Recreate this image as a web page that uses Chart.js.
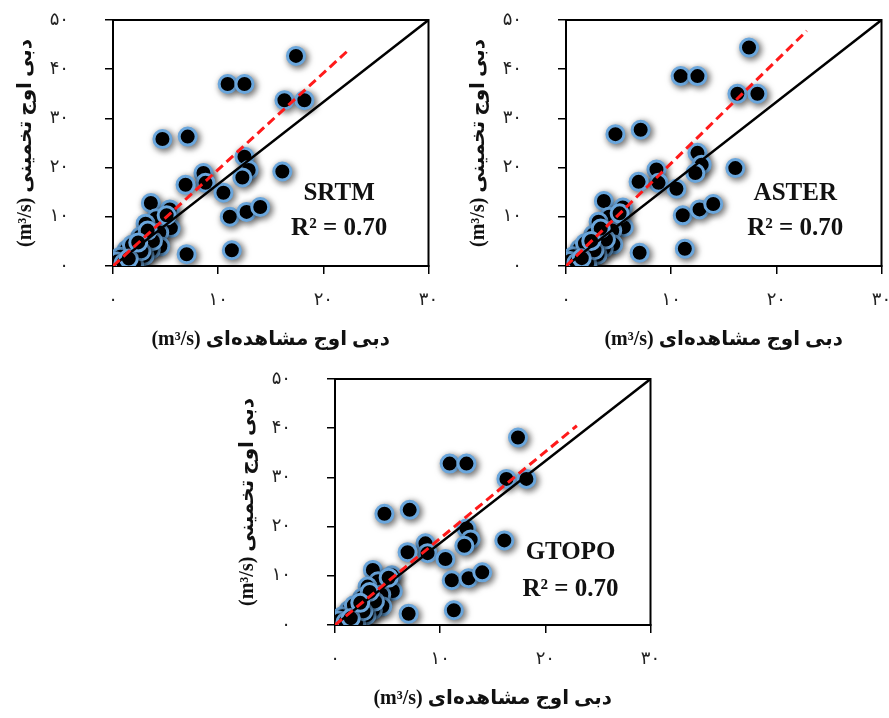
<!DOCTYPE html>
<html lang="fa">
<head>
<meta charset="utf-8">
<script src="https://cdn.jsdelivr.net/npm/chart.js@4.4.1/dist/chart.umd.min.js"></script>
<style>
    html, body { margin: 0; padding: 0; background: #fff; width: 889px; height: 718px; overflow: hidden; }
    .chart-container { position: absolute; width: 440px; height: 355px; }
</style>
</head>
<body>
<div class="chart-container" style="left:0px;top:0px"><canvas id="grafica-srtm"></canvas></div>
<div class="chart-container" style="left:453px;top:0px"><canvas id="grafica-aster"></canvas></div>
<div class="chart-container" style="left:222px;top:359px"><canvas id="grafica-gtopo"></canvas></div>
<script>
//Datos: caudal pico observado (x) y estimado por cada DEM (y)
const observado = [17.4, 10.9, 12.5, 16.3, 18.2, 4.7, 7.1, 12.5, 12.9, 12.3, 16.1, 8.6, 8.8, 6.9, 10.5,
    11.1, 12.7, 14.0, 11.3, 7.0, 3.6, 5.4, 4.1, 3.1, 5.5, 2.6, 4.4, 4.5, 3.6, 2.3, 1.3, 0.7, 0.4,
    1.8, 3.0, 2.0, 1.0, 3.8, 2.7, 5.1, 3.3, 1.5, 2.4];
const estimadoSRTM = [42.7, 37.0, 37.0, 33.7, 33.7, 25.8, 26.3, 22.2, 19.5, 18.0, 19.2, 18.9, 16.9, 16.5, 14.9,
    10.0, 11.0, 12.0, 3.2, 2.4, 12.8, 11.5, 9.7, 8.6, 7.7, 6.0, 6.8, 4.0, 3.3, 1.2, 3.3, 1.9, 0.9,
    4.3, 2.1, 0.4, 0.6, 5.1, 3.0, 10.3, 7.2, 1.5, 4.8];
const estimadoASTER = [44.4, 38.6, 38.6, 35.0, 35.0, 26.8, 27.7, 23.0, 20.6, 18.9, 19.9, 19.6, 16.9, 17.1, 15.7,
    10.3, 11.5, 12.6, 3.5, 2.7, 13.2, 11.9, 10.0, 9.0, 7.9, 6.4, 7.2, 4.4, 3.6, 1.3, 3.5, 2.0, 1.0,
    4.6, 2.3, 0.5, 0.7, 5.4, 3.2, 10.7, 7.6, 1.6, 5.1];
const estimadoGTOPO = [38.1, 32.8, 32.8, 29.7, 29.7, 22.6, 23.4, 19.6, 17.4, 16.1, 17.2, 16.6, 14.6, 14.8, 13.4,
    9.1, 9.5, 10.7, 3.0, 2.3, 11.2, 10.1, 8.9, 7.8, 6.9, 5.6, 6.2, 3.8, 3.0, 1.1, 3.0, 1.8, 0.9,
    4.0, 2.0, 0.4, 0.6, 4.8, 2.8, 9.6, 6.7, 1.4, 4.5];

//Línea de esquina a esquina y extremo de la línea de ajuste
const lineaBaseX = [0, 30];
const lineaBaseY = [0, 50];
const ajusteFinX = [22.5, 22.9, 23.0];
const ajusteFinY = [44.1, 47.8, 40.5];

//Etiquetas de ejes
const xTickLabels = ['۰', '۱۰', '۲۰', '۳۰'];
const yTickLabels = ['۰', '۱۰', '۲۰', '۳۰', '۴۰', '۵۰'];
const tituloX = '(m³/s) دبی اوج مشاهده‌ای';
const tituloY = '(m³/s) دبی اوج تخمینی';
const modelos = ['SRTM', 'ASTER', 'GTOPO'];
const r2Valores = ['0.70', '0.70', '0.70'];

const fuenteTitulo = "'Liberation Serif', 'DejaVu Sans', serif";

//Sombra de los puntos
const sombraPlugin = {
    id: 'sombra',
    beforeDatasetDraw(chart, args) {
        if (chart.data.datasets[args.index].showLine) return;
        const ctx = chart.ctx;
        ctx.save();
        ctx.shadowColor = 'rgba(0, 0, 0, 0.6)';
        ctx.shadowBlur = 7;
        ctx.shadowOffsetX = 2;
        ctx.shadowOffsetY = 2;
    },
    afterDatasetDraw(chart, args) {
        if (chart.data.datasets[args.index].showLine) return;
        chart.ctx.restore();
    }
};

//Marco completo del área de la gráfica
const marcoPlugin = {
    id: 'marco',
    beforeDatasetsDraw(chart) {
        const {ctx, chartArea} = chart;
        ctx.save();
        ctx.strokeStyle = '#000';
        ctx.lineWidth = 2;
        ctx.strokeRect(chartArea.left, chartArea.top, chartArea.right - chartArea.left, chartArea.bottom - chartArea.top);
        ctx.restore();
    }
};

//Texto del modelo y R²
const textoPlugin = {
    id: 'textoModelo',
    afterDatasetsDraw(chart, args, opts) {
        const ctx = chart.ctx;
        const x = chart.scales.x.getPixelForValue(opts.posX);
        ctx.save();
        ctx.fillStyle = '#111';
        ctx.textAlign = 'center';
        ctx.textBaseline = 'middle';
        ctx.font = 'bold 25px ' + fuenteTitulo;
        ctx.fillText(opts.nombre, x, chart.scales.y.getPixelForValue(14.8));
        ctx.fillText('R² = ' + opts.r2, x, chart.scales.y.getPixelForValue(opts.posR2));
        ctx.restore();
    }
};

function createScatterChart(canvasId, indice, estimado) {
    const ctx = document.getElementById(canvasId).getContext('2d');
    const puntos = observado.map((v, i) => ({x: v, y: estimado[i]}));
    new Chart(ctx, {
        type: 'scatter',
        data: {
            datasets: [{
                label: 'ajuste',
                data: [{x: 0, y: 0}, {x: ajusteFinX[indice], y: ajusteFinY[indice]}],
                showLine: true,
                borderColor: '#ff1a1a',
                borderWidth: 3,
                borderDash: [9, 5],
                pointRadius: 0,
                order: 0
            }, {
                label: 'base',
                data: lineaBaseX.map((v, i) => ({x: v, y: lineaBaseY[i]})),
                showLine: true,
                borderColor: '#000',
                borderWidth: 2.5,
                pointRadius: 0,
                order: 1
            }, {
                label: modelos[indice],
                data: puntos,
                backgroundColor: '#000',
                borderColor: '#6aa6dc',
                borderWidth: 3,
                pointRadius: 8.5,
                order: 2
            }]
        },
        options: {
            responsive: true,
            maintainAspectRatio: false,
            animation: false,
            layout: { padding: { top: 20, right: 8, left: 0, bottom: 0 } },
            plugins: {
                legend: { display: false },
                tooltip: { enabled: false },
                textoModelo: {
                    nombre: modelos[indice],
                    r2: r2Valores[indice],
                    posX: indice === 2 ? 22.4 : (indice === 1 ? 21.8 : 21.5),
                    posR2: indice === 2 ? 7.3 : 7.7
                }
            },
            scales: {
                x: {
                    type: 'linear',
                    min: 0,
                    max: 30,
                    ticks: {
                        stepSize: 10,
                        padding: 16,
                        color: '#222',
                        font: { family: "'DejaVu Sans'", size: 18 },
                        callback: v => xTickLabels[v / 10]
                    },
                    grid: { drawOnChartArea: false, tickLength: 8, color: '#000', lineWidth: 1.5 },
                    border: { color: '#000', width: 2 },
                    title: {
                        display: true,
                        text: tituloX,
                        color: '#111',
                        font: { family: fuenteTitulo, size: 20, weight: 'bold' },
                        padding: { top: 0, bottom: 3 }
                    },
                    afterFit: axis => { axis.height = 89; axis.paddingLeft = 0; axis.paddingRight = 0; }
                },
                y: {
                    type: 'linear',
                    min: 0,
                    max: 50,
                    ticks: {
                        stepSize: 10,
                        padding: 36,
                        color: '#222',
                        font: { family: "'DejaVu Sans'", size: 18 },
                        callback: v => yTickLabels[v / 10]
                    },
                    grid: { drawOnChartArea: false, tickLength: 8, color: '#000', lineWidth: 1.5 },
                    border: { color: '#000', width: 2 },
                    title: {
                        display: true,
                        text: tituloY,
                        color: '#111',
                        font: { family: fuenteTitulo, size: 20, weight: 'bold' },
                        padding: { top: 14, bottom: 0 }
                    },
                    afterFit: axis => { axis.width = 113; axis.paddingTop = 0; axis.paddingBottom = 0; }
                }
            }
        },
        plugins: [marcoPlugin, sombraPlugin, textoPlugin]
    });
}

document.addEventListener('DOMContentLoaded', function() {
    createScatterChart('grafica-srtm', 0, estimadoSRTM);
    createScatterChart('grafica-aster', 1, estimadoASTER);
    createScatterChart('grafica-gtopo', 2, estimadoGTOPO);
});
</script>
</body>
</html>
